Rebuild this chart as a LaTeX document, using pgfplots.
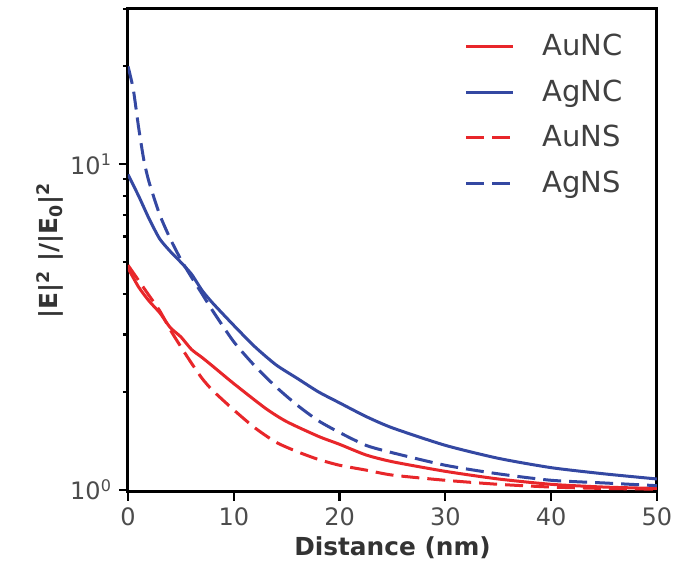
\documentclass[border=0pt]{standalone}
\usepackage{pgfplots}
\pgfplotsset{compat=1.18}
\usepackage{fontspec}
\setmainfont{DejaVu Sans}
\definecolor{aured}{RGB}{232,38,42}
\definecolor{agblue}{RGB}{52,72,162}
\begin{document}
\begin{tikzpicture}
\path[use as bounding box] (-64pt,-40pt) rectangle (273.5pt,246pt);
\begin{axis}[
  at={(0pt,0pt)}, anchor=south west,
  scale only axis, width=264.5pt, height=241.5pt,
  ymode=log, log basis y=10,
  xmin=0, xmax=50, ymin=0.985, ymax=30,
  xtick={0,10,20,30,40,50},
  ytick={1,10}, yticklabels={10\textsuperscript{0},10\textsuperscript{1}},
  minor ytick={2,3,4,5,6,7,8,9,20,30},
  xtick pos=left, ytick pos=left,
  tick align=outside,
  /pgf/number format/assume math mode=true,
  axis line style={line width=1.5pt},
  every tick/.style={black, line width=1.1pt},
  major tick length=4.5pt, minor tick length=2.6pt,
  tick label style={font=\fontsize{12}{14}\selectfont, text=black!70},
  xlabel={\textbf{Distance (nm)}},
  ylabel={\textbf{|E|\textsuperscript{2} |/|E\textsubscript{0}|\textsuperscript{2}}},
  every axis x label/.style={at={(axis description cs:0.5,-0.116)}, anchor=center,
    font=\fontsize{12.4}{15}\selectfont, text=black!80},
  every axis y label/.style={at={(axis description cs:-0.1475,0.5)}, rotate=90, anchor=center,
    font=\fontsize{12.4}{15}\selectfont, text=black!80},
  legend style={draw=none, fill=none, at={(0.955,0.965)}, anchor=north east,
    font=\fontsize{14.5}{17}\selectfont, text=black!75, row sep=6.5pt, column sep=12pt},
  legend cell align=left,
  legend image code/.code={\draw[#1] (0pt,0pt) -- (23.5pt,0pt);},
  every axis plot/.append style={line width=1.5pt},
]
\addplot[aured, smooth, tension=0.4] coordinates {
(0,4.8) (1,4.2) (2,3.8) (3,3.5) (4,3.15) (5,2.95) (6,2.7) (7,2.55) (8,2.4)
(10,2.12) (13,1.78) (15,1.62) (18,1.46) (20,1.38) (22.5,1.28) (25,1.22)
(30,1.14) (35,1.08) (40,1.04) (45,1.02) (50,1.01)};
\addlegendentry{AuNC}
\addplot[agblue, smooth, tension=0.4] coordinates {
(0,9.3) (1,8.0) (2,6.8) (3,5.9) (4,5.4) (5,5.0) (6,4.6) (7,4.1) (8,3.75)
(10,3.2) (12,2.75) (14,2.42) (16,2.2) (18,2.0) (20,1.85) (22.5,1.68) (25,1.55)
(30,1.37) (35,1.25) (40,1.17) (45,1.12) (50,1.08)};
\addlegendentry{AgNC}
\addplot[aured, smooth, tension=0.4, dash pattern=on 9pt off 4pt] coordinates {
(0,4.9) (1,4.4) (2,3.95) (3,3.55) (4,3.1) (5,2.75) (6,2.45) (7,2.2) (8,2.02)
(10,1.76) (12,1.55) (14,1.4) (16,1.31) (18,1.24) (20,1.19) (22.5,1.15) (25,1.11)
(30,1.07) (35,1.04) (40,1.02) (45,1.01) (50,1.005)};
\addlegendentry{AuNS}
\addplot[agblue, smooth, tension=0.4, dash pattern=on 9pt off 4pt] coordinates {
(0,20) (0.5,17) (1,13) (1.5,10.3) (2,8.8) (3,7.0) (4,5.9) (5,5.1) (6,4.5)
(7,4.0) (8,3.55) (10,2.85) (12,2.4) (14,2.07) (16,1.82) (18,1.63) (20,1.5)
(22.5,1.37) (25,1.3) (30,1.19) (35,1.12) (40,1.07) (45,1.05) (50,1.03)};
\addlegendentry{AgNS}
\end{axis}
\end{tikzpicture}
\end{document}
